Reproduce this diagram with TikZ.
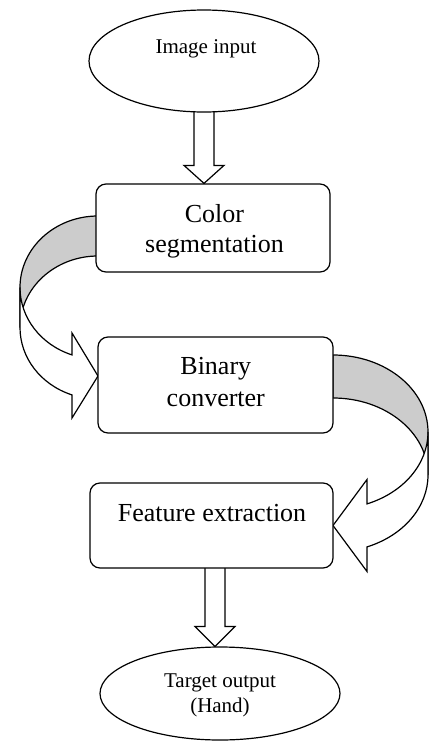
\documentclass[tikz,border=0pt]{standalone}
\usepackage{fontspec}
\setmainfont{Liberation Serif}
\usetikzlibrary{calc,shapes.geometric,backgrounds}
\definecolor{bandgray}{RGB}{204,204,204}
\begin{document}
\begin{tikzpicture}[x=1pt,y=-1pt,line width=1.2pt,line join=miter,
  boxnode/.style={draw,fill=white,rounded corners=10pt,inner sep=0pt,line width=1.2pt},
  ovalnode/.style={draw,fill=white,ellipse,inner sep=0pt,line width=1.2pt},
  bigtxt/.style={font=\fontsize{26}{30}\selectfont,align=center,inner sep=0pt},
  smalltxt/.style={font=\fontsize{21}{25.3}\selectfont,align=center,inner sep=0pt},
  backband/.style={draw,fill=bandgray,line width=1.2pt,line join=miter},
  frontband/.style={draw,fill=white,line width=1.2pt,line join=miter},
  blockarrow/.style={draw,fill=white,line width=1.2pt,line join=miter}]
\useasboundingbox (0,0) rectangle (430,745);

% shapes
\node[ovalnode,minimum width=230pt,minimum height=102pt] (img) at (204,61) {};
\node[boxnode,minimum width=234pt,minimum height=88pt] (cs) at (213,228) {};
\node[boxnode,minimum width=235pt,minimum height=96pt] (bc) at (215.5,385) {};
\node[boxnode,minimum width=243pt,minimum height=85pt] (fe) at (211.5,525.5) {};
\node[ovalnode,minimum width=240pt,minimum height=93pt] (tg) at (220,693.5) {};

% texts
\node[smalltxt] (imgt) at (206,48.5) {Image input};
\node[bigtxt] (cst) at (214.5,231.6) {Color\\segmentation};
\node[bigtxt,font=\fontsize{26}{32}\selectfont] (bct) at (215.8,382.4) {Binary\\converter};
\node[bigtxt] (fet) at (212,513.1) {Feature extraction};
\node[smalltxt] (tgt) at (220,695.3) {Target output\\(Hand)};

\begin{pgfonlayer}{background}
% block arrow 1
\coordinate (a1top) at ($(img.south)+(0,-6)$);
\coordinate (a1tip) at (img.south |- cs.north);
\draw[blockarrow] ($(a1top)+(-10,0)$) -- ($(a1tip)+(-10,-18)$) -- ($(a1tip)+(-20,-18)$)
  -- (a1tip) -- ($(a1tip)+(20,-18)$) -- ($(a1tip)+(10,-18)$) -- ($(a1top)+(10,0)$) -- cycle;
% block arrow 2
\coordinate (a2top) at ($(fe.south)+(3.5,-4)$);
\coordinate (a2tip) at (a2top |- tg.north);
\draw[blockarrow] ($(a2top)+(-10,0)$) -- ($(a2tip)+(-10,-20)$) -- ($(a2tip)+(-20,-20)$)
  -- (a2tip) -- ($(a2tip)+(20,-20)$) -- ($(a2tip)+(10,-20)$) -- ($(a2top)+(10,0)$) -- cycle;

% curved arrow left: color segmentation -> binary converter
\coordinate (Lstart) at (98,216);
\coordinate (Ltip) at (98,376);
\draw[backband] (Lstart) arc[start angle=270,end angle=180,x radius=78,y radius=71.5]
  -- (20,327.5) arc[start angle=180,end angle=270,x radius=78,y radius=71.5] -- cycle;
\draw[frontband] (20,287.5) arc[start angle=180,end angle=109.47,x radius=78,y radius=71.5]
  -- (72,333) -- (Ltip) -- (72,418) -- (72,394.9)
  arc[start angle=109.47,end angle=180,x radius=78,y radius=71.5] -- cycle;

% curved arrow right: binary converter -> feature extraction
\coordinate (Rstart) at (333,355);
\coordinate (Rtip) at (333,525.5);
\draw[backband] (Rstart) arc[start angle=-90,end angle=0,x radius=95,y radius=77]
  -- (428,475) arc[start angle=0,end angle=-90,x radius=95,y radius=77] -- cycle;
\draw[frontband] (428,432) arc[start angle=0,end angle=69.03,x radius=95,y radius=77]
  -- (367,479.5) -- (Rtip) -- (367,571.5) -- (367,546.9)
  arc[start angle=69.03,end angle=0,x radius=95,y radius=77] -- cycle;
\end{pgfonlayer}
\end{tikzpicture}
\end{document}
